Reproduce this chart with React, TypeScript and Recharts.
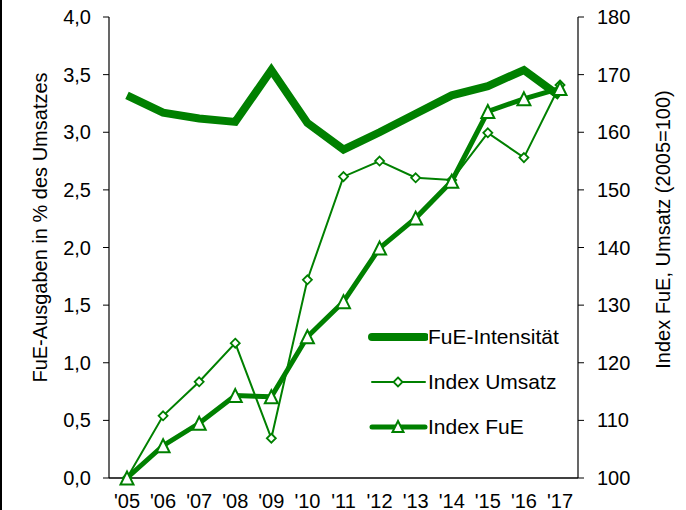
import React from 'react';
import { LineChart, Line, XAxis, YAxis, Legend } from 'recharts';

const YEARS = ["'05", "'06", "'07", "'08", "'09", "'10", "'11", "'12", "'13", "'14", "'15", "'16", "'17"];
const INTENSITAET = [3.32, 3.17, 3.12, 3.09, 3.54, 3.08, 2.85, 3.0, 3.16, 3.32, 3.4, 3.54, 3.31];
const INDEX_UMSATZ = [100, 110.8, 116.7, 123.4, 106.9, 134.4, 152.3, 155.0, 152.1, 151.7, 159.9, 155.6, 168.2];
const INDEX_FUE = [100, 105.6, 109.5, 114.3, 114.1, 124.5, 130.6, 139.9, 145.1, 151.5, 163.6, 165.8, 167.6];
const LEFT_TICKS = [0, 0.5, 1, 1.5, 2, 2.5, 3, 3.5, 4];
const RIGHT_TICKS = [100, 110, 120, 130, 140, 150, 160, 170, 180];
const SERIES_NAMES = ['FuE-Intensität', 'Index Umsatz', 'Index FuE'];
const LEFT_LABEL = 'FuE-Ausgaben in % des Umsatzes';
const RIGHT_LABEL = 'Index FuE, Umsatz (2005=100)';

const data = YEARS.map((year, i) => ({
  year,
  intensitaet: INTENSITAET[i],
  umsatz: INDEX_UMSATZ[i],
  fue: INDEX_FUE[i],
}));

const GREEN = '#008000';
const FONT = '"Liberation Sans", Arial, sans-serif';
const TICK_FS = 20;

const Triangle = (props: any) => {
  const { cx, cy, index } = props;
  if (cx == null || cy == null) return <g key={index} />;
  const h = 6.5;
  return (
    <polygon
      key={index}
      points={`${cx},${cy - h} ${cx + h},${cy + h} ${cx - h},${cy + h}`}
      fill="#fff"
      stroke={GREEN}
      strokeWidth={2}
    />
  );
};

const Diamond = (props: any) => {
  const { cx, cy, index } = props;
  if (cx == null || cy == null) return <g key={index} />;
  const h = 4.5;
  return (
    <polygon
      key={index}
      points={`${cx},${cy - h} ${cx + h},${cy} ${cx},${cy + h} ${cx - h},${cy}`}
      fill="#fff"
      stroke={GREEN}
      strokeWidth={1.8}
    />
  );
};

const fmtLeft = (v: number) => v.toFixed(1).replace('.', ',');

const LegendContent = () => {
  const rows = [
    { name: SERIES_NAMES[0], width: 8, marker: null },
    { name: SERIES_NAMES[1], width: 2, marker: 'diamond' },
    { name: SERIES_NAMES[2], width: 5, marker: 'triangle' },
  ];
  return (
    <div style={{ fontFamily: FONT }}>
      {rows.map((r) => (
        <div key={r.name} style={{ display: 'flex', alignItems: 'center', height: 45 }}>
          <svg width={60} height={20} style={{ display: 'block' }}>
            <line x1={4} y1={10} x2={57} y2={10} stroke={GREEN} strokeWidth={r.width} strokeLinecap="round" />
            {r.marker === 'diamond' && (
              <polygon points="30,5.5 34.5,10 30,14.5 25.5,10" fill="#fff" stroke={GREEN} strokeWidth={1.8} />
            )}
            {r.marker === 'triangle' && (
              <polygon points="30,4 35.5,15 24.5,15" fill="#fff" stroke={GREEN} strokeWidth={2} />
            )}
          </svg>
          <span style={{ fontSize: 21, color: '#000', whiteSpace: 'nowrap', marginLeft: 0 }}>{r.name}</span>
        </div>
      ))}
    </div>
  );
};

const LeftLabel = (props: any) => {
  const vb = props.viewBox || { x: 0, y: 17, width: 109, height: 461 };
  const x = vb.x + 40;
  const y = vb.y + vb.height / 2 - 20;
  return (
    <text x={x} y={y} transform={`rotate(-90 ${x} ${y})`} textAnchor="middle" dominantBaseline="central" fontSize={20} fill="#000" fontFamily={FONT}>
      {LEFT_LABEL}
    </text>
  );
};

const RightLabel = (props: any) => {
  const vb = props.viewBox || { x: 578, y: 17, width: 108, height: 461 };
  const x = vb.x + 85;
  const y = vb.y + vb.height / 2 - 18;
  return (
    <text x={x} y={y} transform={`rotate(-90 ${x} ${y})`} textAnchor="middle" dominantBaseline="central" fontSize={20} fill="#000" fontFamily={FONT}>
      {RIGHT_LABEL}
    </text>
  );
};

export default function App() {
  return (
    <div style={{ position: 'absolute', left: 0, top: 0, width: 686, height: 510, background: '#fff' }}>
      <div style={{ position: 'absolute', left: 0, top: 0, width: 2, height: 510, background: '#000' }} />
      <LineChart
        width={686}
        height={510}
        data={data}
        margin={{ top: 17, right: 0, bottom: 0, left: 0 }}
        style={{ fontFamily: FONT }}
      >
        <XAxis
          dataKey="year"
          interval={0}
          padding={{ left: 18, right: 18 }}
          height={32}
          axisLine={{ stroke: '#000', strokeWidth: 1.5 }}
          tickLine={false}
          tickSize={6}
          tickMargin={10}
          tick={{ fill: '#000', fontSize: TICK_FS }}
        />
        <YAxis
          yAxisId="left"
          domain={[0, 4]}
          ticks={LEFT_TICKS}
          width={109}
          tickFormatter={fmtLeft}
          axisLine={{ stroke: '#000', strokeWidth: 1.2 }}
          tickLine={{ stroke: '#000' }}
          tickSize={6}
          tickMargin={12}
          tick={{ fill: '#000', fontSize: TICK_FS }}
          label={{ content: LeftLabel }}
        />
        <YAxis
          yAxisId="right"
          orientation="right"
          domain={[100, 180]}
          ticks={RIGHT_TICKS}
          width={108}
          axisLine={{ stroke: '#000', strokeWidth: 1.2 }}
          tickLine={{ stroke: '#000' }}
          tickSize={6}
          tickMargin={13}
          tick={{ fill: '#000', fontSize: TICK_FS }}
          label={{ content: RightLabel }}
        />
        <Legend
          layout="vertical"
          verticalAlign="middle"
          align="center"
          content={<LegendContent />}
          wrapperStyle={{ position: 'absolute', left: 368, top: 314, width: 210 }}
        />
        <Line
          yAxisId="left"
          dataKey="intensitaet"
          name={SERIES_NAMES[0]}
          stroke={GREEN}
          strokeWidth={8}
          dot={false}
          activeDot={false}
          isAnimationActive={false}
        />
        <Line
          yAxisId="right"
          dataKey="umsatz"
          name={SERIES_NAMES[1]}
          stroke={GREEN}
          strokeWidth={2}
          dot={Diamond}
          activeDot={false}
          isAnimationActive={false}
        />
        <Line
          yAxisId="right"
          dataKey="fue"
          name={SERIES_NAMES[2]}
          stroke={GREEN}
          strokeWidth={5}
          dot={Triangle}
          activeDot={false}
          isAnimationActive={false}
        />
      </LineChart>
    </div>
  );
}
